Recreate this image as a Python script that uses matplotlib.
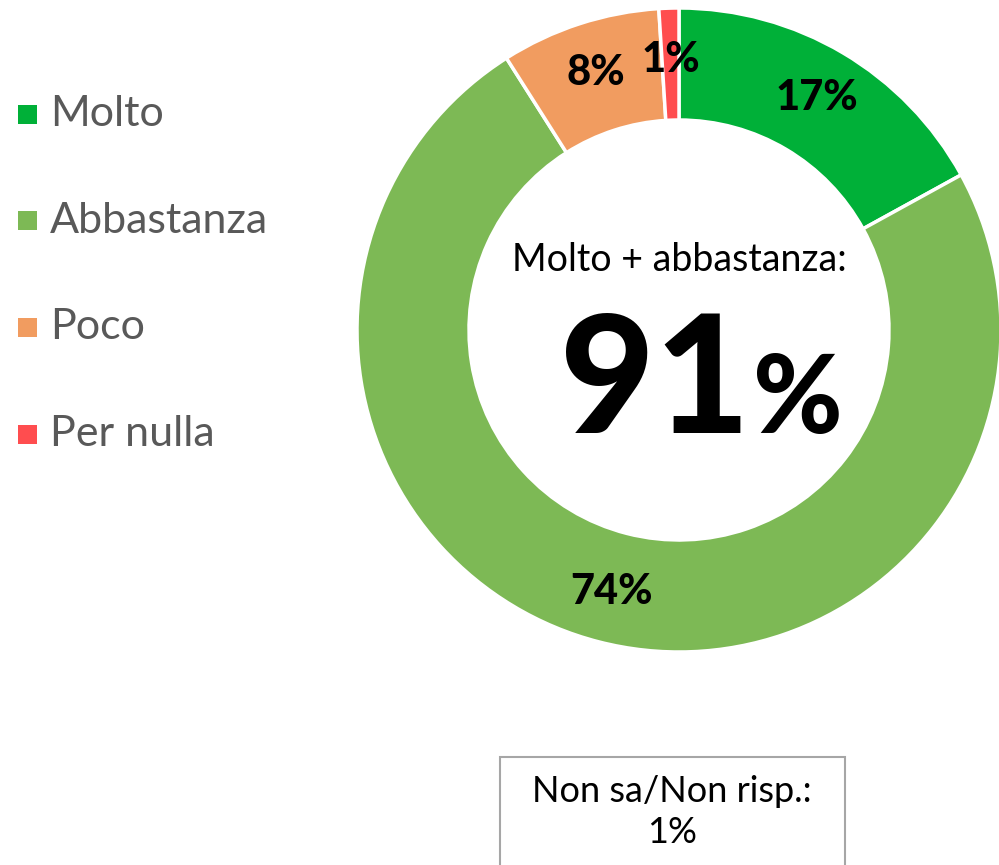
import matplotlib
matplotlib.use('Agg')
import matplotlib.pyplot as plt
from matplotlib.patches import Rectangle
import numpy as np

plt.rcParams['font.family'] = ['Lato', 'DejaVu Sans']

categories = ['Molto', 'Abbastanza', 'Poco', 'Per nulla']
values = [17, 74, 8, 1]
colors = ['#00B038', '#7DB955', '#F19C60', '#FF4D4F']
center_title = 'Molto + abbastanza:'
center_value = '91'
dk_label = 'Non sa/Non risp.:\n1%'

W, H = 999, 865
fig = plt.figure(figsize=(W / 100, H / 100), dpi=100)
ax = fig.add_axes([0, 0, 1, 1])

cx, cy, r_out, r_in = 679, H - 330, 322, 210
wedges, _ = ax.pie(values, colors=colors, startangle=90, counterclock=False,
                   center=(cx, cy), radius=r_out,
                   wedgeprops=dict(width=r_out - r_in, edgecolor='white', linewidth=2.5))

# percentage labels in the middle of each ring segment
r_lab = (r_out + r_in) / 2 + 4
for w, v in zip(wedges, values):
    ang = np.deg2rad((w.theta1 + w.theta2) / 2)
    ax.text(cx + r_lab * np.cos(ang), cy + r_lab * np.sin(ang), f'{v}%',
            ha='center', va='center', fontsize=30, fontweight='black', color='black')

# centre text
ax.text(cx, H - 260, center_title, ha='center', va='center', fontsize=27,
        fontweight='normal', color='black')
ax.text(750, H - 433, center_value, ha='right', va='baseline', fontsize=118,
        fontweight='black', color='black')
ax.text(753, H - 433, '%', ha='left', va='baseline', fontsize=78,
        fontweight='black', color='black')

# legend
for i, (lab, c) in enumerate(zip(categories, colors)):
    y = H - (114 + i * 106.7)
    ax.add_patch(Rectangle((18, y - 9.5), 19, 19, facecolor=c, edgecolor='none'))
    ax.text(50, y, lab, ha='left', va='center', fontsize=31, color='#595959')

# "don't know" box
ax.add_patch(Rectangle((500, -10), 345, H - 757 + 10, facecolor='white',
                       edgecolor='#A6A6A6', linewidth=1.5))
ax.text(672, H - 812, dk_label, ha='center', va='center', fontsize=26,
        color='black', linespacing=1.3)

ax.set_xlim(0, W)
ax.set_ylim(0, H)
ax.set_aspect('equal')
ax.axis('off')

plt.savefig('out.png', dpi=100)
